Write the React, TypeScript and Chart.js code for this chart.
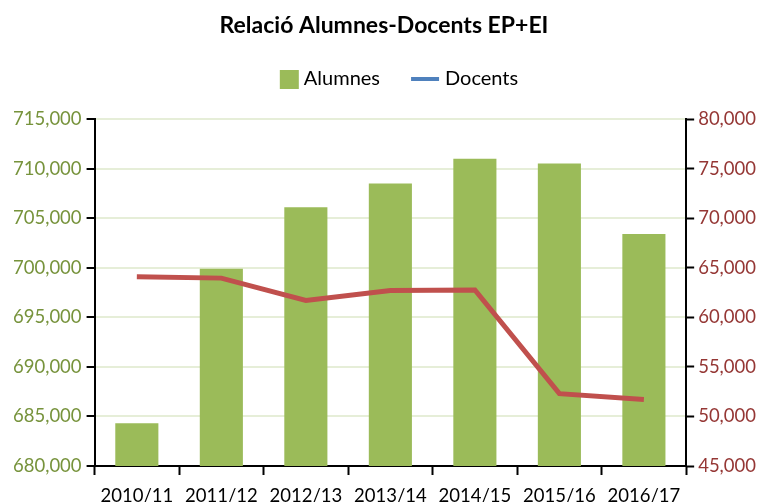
import React, { useEffect, useRef } from 'react';
import { Chart, registerables } from 'chart.js';

Chart.register(...registerables);

const categories = ['2010/11', '2011/12', '2012/13', '2013/14', '2014/15', '2015/16', '2016/17'];
const alumnes = [684300, 699900, 706100, 708500, 711000, 710500, 703400];
const docents = [64100, 63950, 61700, 62700, 62750, 52300, 51700];
const leftAxis = { min: 680000, max: 715000, step: 5000 };
const rightAxis = { min: 45000, max: 80000, step: 5000 };

const FONT = 'Lato, "Open Sans", sans-serif';

function makeSquare(): HTMLCanvasElement {
  const c = document.createElement('canvas');
  c.width = 38;
  c.height = 19;
  const g = c.getContext('2d')!;
  g.fillStyle = '#9bbb59';
  g.fillRect(15, 0, 19, 19);
  return c;
}

function makeLine(): HTMLCanvasElement {
  const c = document.createElement('canvas');
  c.width = 46;
  c.height = 4;
  const g = c.getContext('2d')!;
  g.fillStyle = '#4f81bd';
  g.fillRect(9, 0, 28, 4);
  return c;
}

export default function App() {
  const ref = useRef<HTMLCanvasElement | null>(null);

  useEffect(() => {
    if (!ref.current) return;
    Chart.defaults.font.family = FONT;
    const sq = makeSquare();
    const ln = makeLine();
    const legendMargin = {
      id: 'legendMargin',
      beforeInit(chart: any) {
        const orig = chart.legend.fit;
        chart.legend.fit = function () {
          orig.call(this);
          this.height += 20;
        };
      },
      afterLayout(chart: any) {
        chart.legend.left += 12;
        chart.legend.right += 12;
      },
    };
    const fmt = (v: any) => Number(v).toLocaleString('en-US');
    const tickFont = { size: 18.5, family: FONT };
    const chart = new Chart(ref.current, {
      type: 'bar',
      data: {
        labels: categories,
        datasets: [
          {
            type: 'line',
            label: 'Docents',
            data: docents,
            yAxisID: 'y1',
            borderColor: '#c0504d',
            backgroundColor: '#c0504d',
            borderWidth: 5,
            pointRadius: 0,
            tension: 0,
            order: 0,
          } as any,
          {
            type: 'bar',
            label: 'Alumnes',
            data: alumnes,
            yAxisID: 'y',
            backgroundColor: '#9bbb59',
            barPercentage: 0.51,
            categoryPercentage: 1,
            order: 1,
          },
        ],
      },
      plugins: [legendMargin],
      options: {
        responsive: false,
        animation: false,
        layout: { padding: { left: 8, right: 0, top: 0, bottom: 0 } },
        plugins: {
          title: {
            display: true,
            text: 'Relació Alumnes-Docents EP+EI',
            color: '#000',
            font: { size: 23, weight: 'bold', family: FONT },
            padding: { top: 12, bottom: 19.4 },
          },
          legend: {
            display: true,
            position: 'top',
            labels: {
              usePointStyle: true,
              pointStyleWidth: 20,
              color: '#000',
              font: { size: 20, family: FONT },
              padding: 10,
              generateLabels: () => [
                { text: 'Alumnes\u2003\u2002', pointStyle: sq, fillStyle: '#9bbb59', strokeStyle: '#9bbb59', lineWidth: 0, hidden: false, datasetIndex: 1 } as any,
                { text: 'Docents', pointStyle: ln, fillStyle: '#4f81bd', strokeStyle: '#4f81bd', lineWidth: 0, hidden: false, datasetIndex: 0 } as any,
              ],
            },
          },
          tooltip: { enabled: false },
        },
        scales: {
          x: {
            offset: true,
            afterFit: (scale: any) => {
              scale.height = 36;
            },
            grid: {
              drawOnChartArea: false,
              drawTicks: true,
              tickLength: 9,
              tickColor: '#000',
              tickWidth: 2,
              offset: true,
            },
            border: { display: true, color: '#000', width: 2 },
            ticks: { color: '#000', font: tickFont, padding: 10, maxRotation: 0 },
          },
          y: {
            position: 'left',
            min: leftAxis.min,
            max: leftAxis.max,
            grid: {
              color: '#e6eed8',
              lineWidth: 2,
              tickColor: '#000',
              tickWidth: 2,
              tickLength: 8,
            },
            border: { display: true, color: '#000', width: 2 },
            ticks: {
              stepSize: leftAxis.step,
              color: '#77933c',
              font: tickFont,
              padding: 5,
              callback: fmt,
            },
          },
          y1: {
            position: 'right',
            min: rightAxis.min,
            max: rightAxis.max,
            grid: {
              drawOnChartArea: false,
              tickColor: '#000',
              tickWidth: 2,
              tickLength: 8,
            },
            border: { display: true, color: '#000', width: 2 },
            ticks: {
              stepSize: rightAxis.step,
              color: '#953735',
              font: tickFont,
              padding: 4,
              callback: fmt,
            },
          },
        },
      },
    });
    return () => chart.destroy();
  }, []);

  return (
    <div style={{ position: 'fixed', left: 0, top: 0, width: 760, height: 502, background: '#fff' }}>
      <canvas ref={ref} width={760} height={502} />
    </div>
  );
}
